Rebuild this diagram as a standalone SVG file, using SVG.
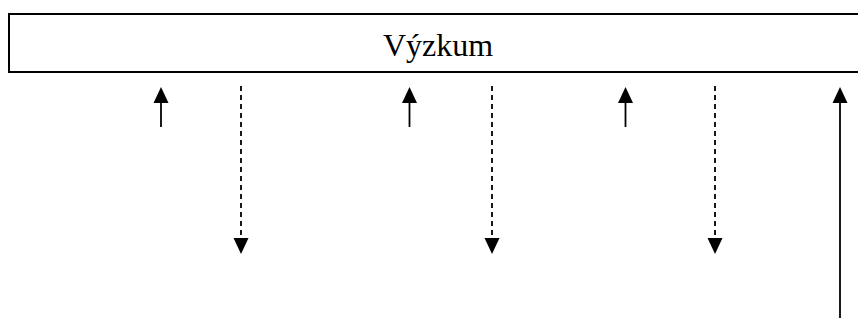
<svg xmlns="http://www.w3.org/2000/svg" width="858" height="322" viewBox="0 0 858 322">
  <style>
    .box { fill: #fff; stroke: #000; stroke-width: 2; }
    .label { font-family: "Liberation Serif", "Times New Roman", serif; font-size: 32px; fill: #000; }
    .solid { stroke: #000; stroke-width: 1.8; fill: none; }
    .dashed { stroke: #000; stroke-width: 1.8; fill: none; stroke-dasharray: 5 4; }
    .head { fill: #000; }
  </style>
  <rect width="858" height="322" fill="#fff"/>
  <g id="vyzkum">
    <rect class="box" x="9" y="14" width="860" height="58"/>
    <text class="label" x="438" y="56" text-anchor="middle">Výzkum</text>
  </g>
  <g id="connectors">
    <!-- upward solid arrows -->
    <line class="solid" x1="161" y1="127" x2="161" y2="100"/>
    <polygon class="head" points="161,87 153.5,103 168.5,103"/>
    <line class="solid" x1="409.5" y1="127" x2="409.5" y2="100"/>
    <polygon class="head" points="409.5,87 402,103 417,103"/>
    <line class="solid" x1="625.5" y1="127" x2="625.5" y2="100"/>
    <polygon class="head" points="625.5,87 618,103 633,103"/>
    <line class="solid" x1="840" y1="318" x2="840" y2="100"/>
    <polygon class="head" points="840,87 832.5,103 847.5,103"/>
    <!-- downward dashed arrows -->
    <line class="dashed" x1="241" y1="86" x2="241" y2="240"/>
    <polygon class="head" points="241,254 233.5,238 248.5,238"/>
    <line class="dashed" x1="492" y1="86" x2="492" y2="240"/>
    <polygon class="head" points="492,254 484.5,238 499.5,238"/>
    <line class="dashed" x1="715" y1="86" x2="715" y2="240"/>
    <polygon class="head" points="715,254 707.5,238 722.5,238"/>
  </g>
</svg>
